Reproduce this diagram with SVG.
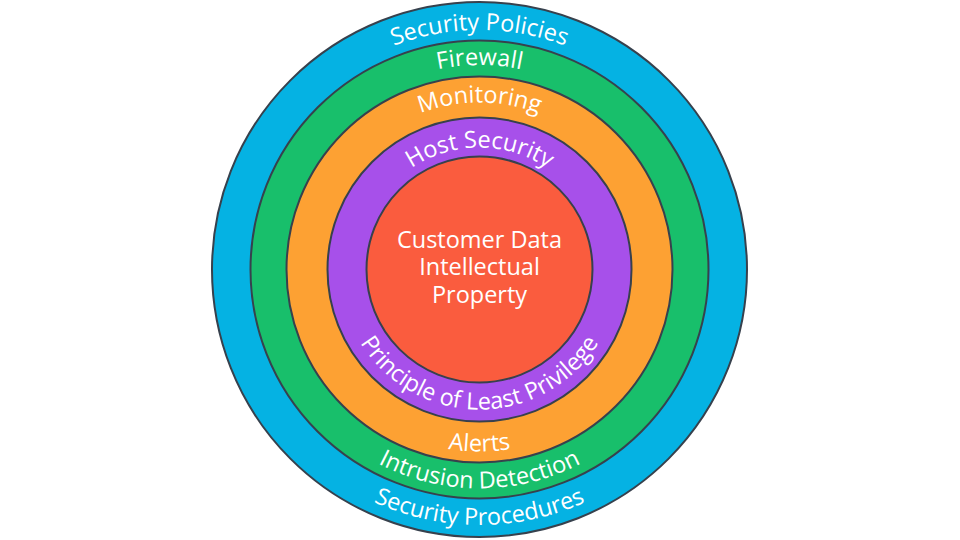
<svg xmlns="http://www.w3.org/2000/svg" xmlns:xlink="http://www.w3.org/1999/xlink" width="960" height="540" viewBox="0 0 960 540">
<style>
.ring{stroke:#37414d;stroke-width:2}
.lbl{font-family:"Open Sans","Noto Sans","DejaVu Sans",sans-serif;font-size:23.5px;fill:#ffffff;text-anchor:middle}
</style>
<defs>
<path id="tBlue" d="M240 269.5 A239.5 239.5 0 0 1 719 269.5"/>
<path id="tGreen" d="M275 269.5 A204.5 204.5 0 0 1 684 269.5"/>
<path id="tOrange" d="M312.5 269.5 A167 167 0 0 1 646.5 269.5"/>
<path id="tPurple" d="M357.5 269.5 A122 122 0 0 1 601.5 269.5"/>
<path id="bBlue" d="M224 269.5 A255.5 255.5 0 0 0 735 269.5"/>
<path id="bGreen" d="M260.5 269.5 A219 219 0 0 0 698.5 269.5"/>
<path id="bOrange" d="M297.5 269.5 A182 182 0 0 0 661.5 269.5"/>
<path id="bPurple" d="M339.5 269.5 A140 140 0 0 0 619.5 269.5"/>
</defs>
<rect width="960" height="540" fill="#ffffff"/>
<g id="security-policies">
<circle class="ring" cx="479.5" cy="269.5" r="267.5" fill="#05b2e3"/>
<text class="lbl"><textPath xlink:href="#tBlue" href="#tBlue" startOffset="50%">Security Policies</textPath></text>
<text class="lbl"><textPath xlink:href="#bBlue" href="#bBlue" startOffset="50%">Security Procedures</textPath></text>
</g>
<g id="firewall">
<circle class="ring" cx="479.5" cy="269.5" r="229" fill="#18bf6b"/>
<text class="lbl"><textPath xlink:href="#tGreen" href="#tGreen" startOffset="50%">Firewall</textPath></text>
<text class="lbl"><textPath xlink:href="#bGreen" href="#bGreen" startOffset="50%">Intrusion Detection</textPath></text>
</g>
<g id="monitoring">
<circle class="ring" cx="479.5" cy="269.5" r="193" fill="#fda133"/>
<text class="lbl"><textPath xlink:href="#tOrange" href="#tOrange" startOffset="50%">Monitoring</textPath></text>
<text class="lbl"><textPath xlink:href="#bOrange" href="#bOrange" startOffset="50%">Alerts</textPath></text>
</g>
<g id="host-security">
<circle class="ring" cx="479.5" cy="269.5" r="152" fill="#a750ea"/>
<text class="lbl"><textPath xlink:href="#tPurple" href="#tPurple" startOffset="50%">Host Security</textPath></text>
<text class="lbl"><textPath xlink:href="#bPurple" href="#bPurple" startOffset="50%">Principle of Least Privilege</textPath></text>
</g>
<g id="core">
<circle class="ring" cx="479.5" cy="269.5" r="113" fill="#fa5c3e"/>
<text class="lbl" x="479.5" y="248">Customer Data</text>
<text class="lbl" x="479.5" y="275">Intellectual</text>
<text class="lbl" x="479.5" y="303">Property</text>
</g>
<g id="connectors"/>
</svg>
